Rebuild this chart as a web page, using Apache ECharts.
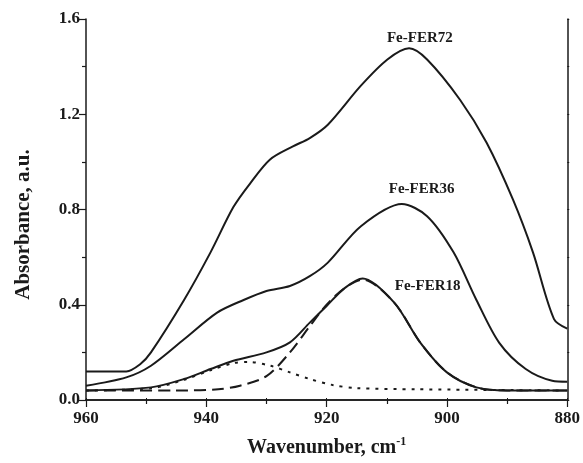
<!DOCTYPE html>
<html>
<head>
<meta charset="utf-8">
<script src="https://cdn.jsdelivr.net/npm/echarts@6/dist/echarts.min.js"></script>
<style>
    html, body { margin: 0; padding: 0; background: #fff; }
    #chart { width: 583px; height: 463px; }
</style>
</head>
<body>
<div id="chart"></div>
<script>
// wavenumber (cm-1) / absorbance
var fer72X = [960, 953.3, 951, 949.2, 943.7, 939.3, 935.5, 932.7, 929.4, 925.6, 922.8, 919.8, 914.3, 909.9, 906.3, 903.3, 897.8, 893.4, 889.0, 885.7, 882.2, 880];
var fer72Y = [0.12, 0.12, 0.15, 0.20, 0.42, 0.62, 0.81, 0.91, 1.01, 1.065, 1.10, 1.156, 1.32, 1.43, 1.477, 1.43, 1.26, 1.08, 0.84, 0.62, 0.34, 0.30];

var fer36X = [960, 953.3, 949.2, 943.7, 938.2, 933.8, 930.0, 926.1, 922.8, 919.8, 914.3, 907.5, 903.3, 898.9, 895.1, 891.3, 886.9, 882.5, 880];
var fer36Y = [0.06, 0.095, 0.144, 0.255, 0.367, 0.42, 0.458, 0.479, 0.52, 0.577, 0.73, 0.823, 0.772, 0.62, 0.42, 0.24, 0.13, 0.081, 0.077];

var fer18X = [960, 949.2, 943.7, 939.3, 935.5, 930.0, 926.1, 922.8, 920.0, 917.0, 914.0, 908.8, 904.4, 900.0, 895.1, 890.0, 880];
var fer18Y = [0.04, 0.053, 0.088, 0.13, 0.165, 0.20, 0.242, 0.325, 0.395, 0.47, 0.51, 0.41, 0.24, 0.116, 0.053, 0.04, 0.04];

// fitted components of Fe-FER18
var dashX = [960, 945, 938, 934.4, 930.0, 926.1, 922.8, 920.0, 917.0, 914.0, 908.8, 904.4, 900.0, 895.1, 890.0, 880];
var dashY = [0.04, 0.04, 0.045, 0.06, 0.10, 0.20, 0.31, 0.40, 0.47, 0.505, 0.41, 0.24, 0.116, 0.053, 0.04, 0.04];

var dotX = [960, 949, 943.7, 939.3, 935.5, 933, 929.4, 926.1, 922.8, 919, 915, 905, 880];
var dotY = [0.04, 0.05, 0.085, 0.125, 0.155, 0.16, 0.144, 0.116, 0.088, 0.063, 0.05, 0.045, 0.04];

var xTicks = [960, 940, 920, 900, 880];
var yTicks = [0.0, 0.4, 0.8, 1.2, 1.6];

var labelNames = ['Fe-FER72', 'Fe-FER36', 'Fe-FER18'];
var labelPos = [[904.5, 1.52], [904.2, 0.884], [903.2, 0.479]];

function pairs(xs, ys) {
    var out = [];
    for (var i = 0; i < xs.length; i++) {
        out.push([xs[i], ys[i]]);
    }
    return out;
}

var font = 'Liberation Serif';
var ink = '#1a1a1a';

var myChart = echarts.init(document.getElementById('chart'));

function lineSeries(name, xs, ys, type, idx) {
    var s = {
        name: name,
        type: 'line',
        data: pairs(xs, ys),
        showSymbol: false,
        smooth: 0.3,
        lineStyle: { color: ink, width: 2, type: type },
        silent: true,
        z: type === 'solid' ? 3 : 2
    };
    if (idx !== undefined) {
        s.markPoint = {
            symbol: 'circle',
            symbolSize: 0,
            silent: true,
            data: [{ coord: labelPos[idx] }],
            label: {
                show: true,
                formatter: labelNames[idx],
                fontFamily: font,
                fontWeight: 'bold',
                fontSize: 15,
                color: ink,
                position: 'inside'
            }
        };
    }
    return s;
}

var axisCommon = {
    axisLine: { lineStyle: { color: ink, width: 1.5 } },
    axisTick: { length: 7, lineStyle: { color: ink, width: 1.2 } },
    minorTick: { show: true, splitNumber: 2, length: 4, lineStyle: { color: ink, width: 1.2 } },
    splitLine: { show: false },
    minorSplitLine: { show: false }
};

var option = {
    animation: false,
    backgroundColor: '#fff',
    grid: { left: 86, right: 12, top: 19, bottom: 62 },
    xAxis: [
        Object.assign({}, axisCommon, {
            type: 'value',
            inverse: true,
            min: xTicks[xTicks.length - 1],
            max: xTicks[0],
            interval: 20,
            position: 'bottom',
            name: 'Wavenumber, cm{sup|-1}',
            nameLocation: 'middle',
            nameGap: 36,
            nameTextStyle: {
                fontFamily: font, fontWeight: 'bold', fontSize: 20, color: ink,
                rich: { sup: { fontFamily: font, fontWeight: 'bold', fontSize: 12, color: ink, padding: [0, 0, 12, 0] } }
            },
            axisLabel: { fontFamily: font, fontWeight: 'bold', fontSize: 17, color: ink, margin: 10 }
        }),
        Object.assign({}, axisCommon, {
            type: 'value',
            inverse: true,
            min: xTicks[xTicks.length - 1],
            max: xTicks[0],
            interval: 20,
            position: 'top',
            axisTick: { length: 2, lineStyle: { color: ink, width: 1 } },
            minorTick: { show: true, splitNumber: 2, length: 2, lineStyle: { color: ink, width: 1 } },
            axisLabel: { show: false }
        })
    ],
    yAxis: [
        Object.assign({}, axisCommon, {
            type: 'value',
            min: yTicks[0],
            max: yTicks[yTicks.length - 1],
            interval: 0.4,
            position: 'left',
            name: 'Absorbance, a.u.',
            nameLocation: 'middle',
            nameGap: 52,
            nameTextStyle: { fontFamily: font, fontWeight: 'bold', fontSize: 21, color: ink, padding: [0, 30, 0, 0] },
            axisLabel: {
                fontFamily: font, fontWeight: 'bold', fontSize: 17, color: ink, margin: 6,
                formatter: function (v) { return v.toFixed(1); }
            }
        }),
        Object.assign({}, axisCommon, {
            type: 'value',
            min: yTicks[0],
            max: yTicks[yTicks.length - 1],
            interval: 0.4,
            position: 'right',
            axisTick: { length: 2, lineStyle: { color: ink, width: 1 } },
            minorTick: { show: true, splitNumber: 2, length: 2, lineStyle: { color: ink, width: 1 } },
            axisLabel: { show: false }
        })
    ],
    series: [
        lineSeries('dotted', dotX, dotY, [3, 6]),
        lineSeries('dashed', dashX, dashY, [12, 6]),
        lineSeries('Fe-FER18', fer18X, fer18Y, 'solid', 2),
        lineSeries('Fe-FER36', fer36X, fer36Y, 'solid', 1),
        lineSeries('Fe-FER72', fer72X, fer72Y, 'solid', 0)
    ]
};

option && myChart.setOption(option);
</script>
</body>
</html>
